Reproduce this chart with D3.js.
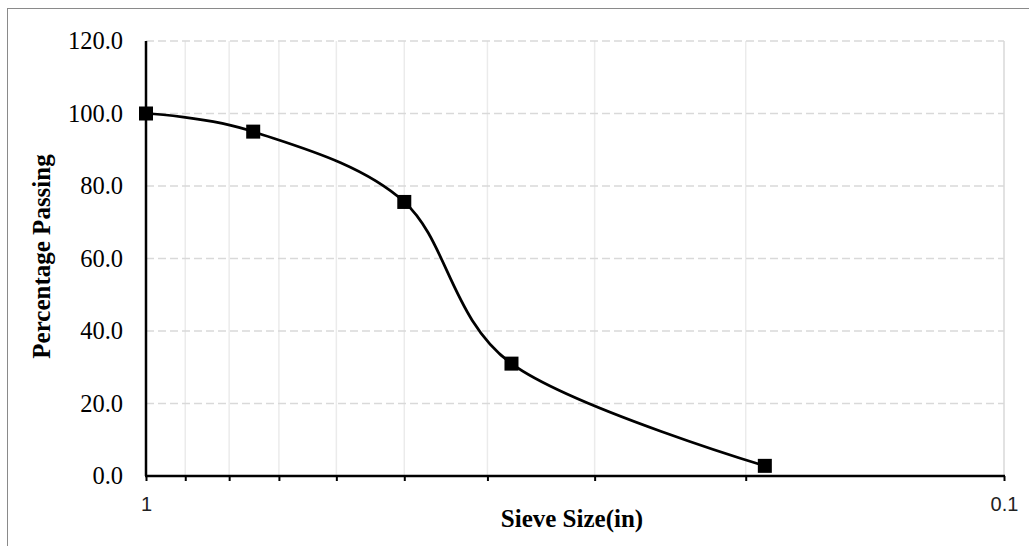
<!DOCTYPE html>
<html>
<head>
<meta charset="utf-8">
<script src="https://cdn.jsdelivr.net/npm/d3@7"></script>
<style>
  body { margin: 0; background: #fff; }
  svg { display: block; }
</style>
</head>
<body>
<svg id="chart" width="1029" height="546"></svg>
<script>
// sieve sizes (in) and percentage passing
var sieveSizes = [1, 0.75, 0.5, 0.375, 0.19];
var percentPassing = [100, 95, 75.6, 31.0, 2.8];

var xTickValues = [1, 0.9, 0.8, 0.7, 0.6, 0.5, 0.4, 0.3, 0.2, 0.1];
var xTickLabels = {"1": "1", "0.1": "0.1"};
var yTickValues = [0, 20, 40, 60, 80, 100, 120];

var svg = d3.select("#chart");
var width = 1029, height = 546;
var margin = {left: 146, right: 25, top: 41, bottom: 70};

var xScale = d3.scaleLog()
    .domain([1, 0.1])
    .range([margin.left, width - margin.right]);

var yScale = d3.scaleLinear()
    .domain([0, 120])
    .range([height - margin.bottom, margin.top]);

// outer chart border (only left/top visible in the picture)
svg.append("rect")
    .attr("x", 7.5)
    .attr("y", 8.5)
    .attr("width", 1040)
    .attr("height", 560)
    .style("fill", "none")
    .style("stroke", "#8a8a8a")
    .style("stroke-width", 1);

// vertical gridlines
svg.append("g")
    .selectAll("line")
    .data(xTickValues.slice(1))
    .enter()
    .append("line")
    .attr("x1", function(d) { return xScale(d); })
    .attr("x2", function(d) { return xScale(d); })
    .attr("y1", yScale(0))
    .attr("y2", yScale(120))
    .style("stroke", function(d) { return d === 0.1 ? "#d9d9d9" : "#ebebeb"; })
    .style("stroke-width", 1.5);

// horizontal gridlines (dashed)
svg.append("g")
    .selectAll("line")
    .data(yTickValues.slice(1))
    .enter()
    .append("line")
    .attr("x1", xScale(1))
    .attr("x2", xScale(0.1))
    .attr("y1", function(d) { return yScale(d); })
    .attr("y2", function(d) { return yScale(d); })
    .style("stroke", "#d9d9d9")
    .style("stroke-width", 1.5)
    .style("stroke-dasharray", "8,4");

// X axis
var xAxis = d3.axisBottom(xScale)
    .tickValues(xTickValues)
    .tickSize(5)
    .tickPadding(16)
    .tickFormat(function(d) { return xTickLabels[String(d)] || ""; });

var gx = svg.append("g")
    .attr("transform", "translate(0," + yScale(0) + ")")
    .call(xAxis);
gx.select(".domain").remove();
gx.selectAll(".tick line").style("stroke", "#000").style("stroke-width", 2);
gx.selectAll("text")
    .style("font-family", "'Liberation Sans', Arial, sans-serif")
    .style("font-size", "20px")
    .style("fill", "#222");
gx.append("line")
    .attr("x1", xScale(1) - 1)
    .attr("x2", xScale(0.1) + 1)
    .style("stroke", "#000")
    .style("stroke-width", 2.5);

// Y axis
var yAxis = d3.axisLeft(yScale)
    .tickValues(yTickValues)
    .tickSize(0)
    .tickPadding(23)
    .tickFormat(d3.format(".1f"));

var gy = svg.append("g")
    .attr("transform", "translate(" + xScale(1) + ",0)")
    .call(yAxis);
gy.select(".domain").remove();
gy.selectAll("text")
    .style("font-family", "'Liberation Serif', 'Times New Roman', serif")
    .style("font-size", "24.5px")
    .style("fill", "#000");
gy.append("line")
    .attr("y1", yScale(0))
    .attr("y2", yScale(120))
    .style("stroke", "#000")
    .style("stroke-width", 2.5);

// smooth line
var points = sieveSizes.map(function(s, i) { return [s, percentPassing[i]]; });

var line = d3.line()
    .x(function(d) { return xScale(d[0]); })
    .y(function(d) { return yScale(d[1]); })
    .curve(d3.curveCardinal.tension(0));

svg.append("path")
    .datum(points)
    .attr("d", line)
    .style("fill", "none")
    .style("stroke", "#000")
    .style("stroke-width", 2.75);

// square markers
var ms = 14;
svg.selectAll("rect.marker")
    .data(points)
    .enter()
    .append("rect")
    .attr("class", "marker")
    .attr("x", function(d) { return xScale(d[0]) - ms / 2; })
    .attr("y", function(d) { return yScale(d[1]) - ms / 2; })
    .attr("width", ms)
    .attr("height", ms)
    .style("fill", "#000");

// axis titles
svg.append("text")
    .attr("x", (xScale(1) + xScale(0.1)) / 2 - 3)
    .attr("y", 527)
    .style("text-anchor", "middle")
    .style("font-family", "'Liberation Serif', 'Times New Roman', serif")
    .style("font-weight", "bold")
    .style("font-size", "25px")
    .text("Sieve Size(in)");

svg.append("text")
    .attr("transform", "translate(50," + ((yScale(0) + yScale(120)) / 2 - 2) + ") rotate(-90)")
    .style("text-anchor", "middle")
    .style("font-family", "'Liberation Serif', 'Times New Roman', serif")
    .style("font-weight", "bold")
    .style("font-size", "25px")
    .text("Percentage Passing");
</script>
</body>
</html>
